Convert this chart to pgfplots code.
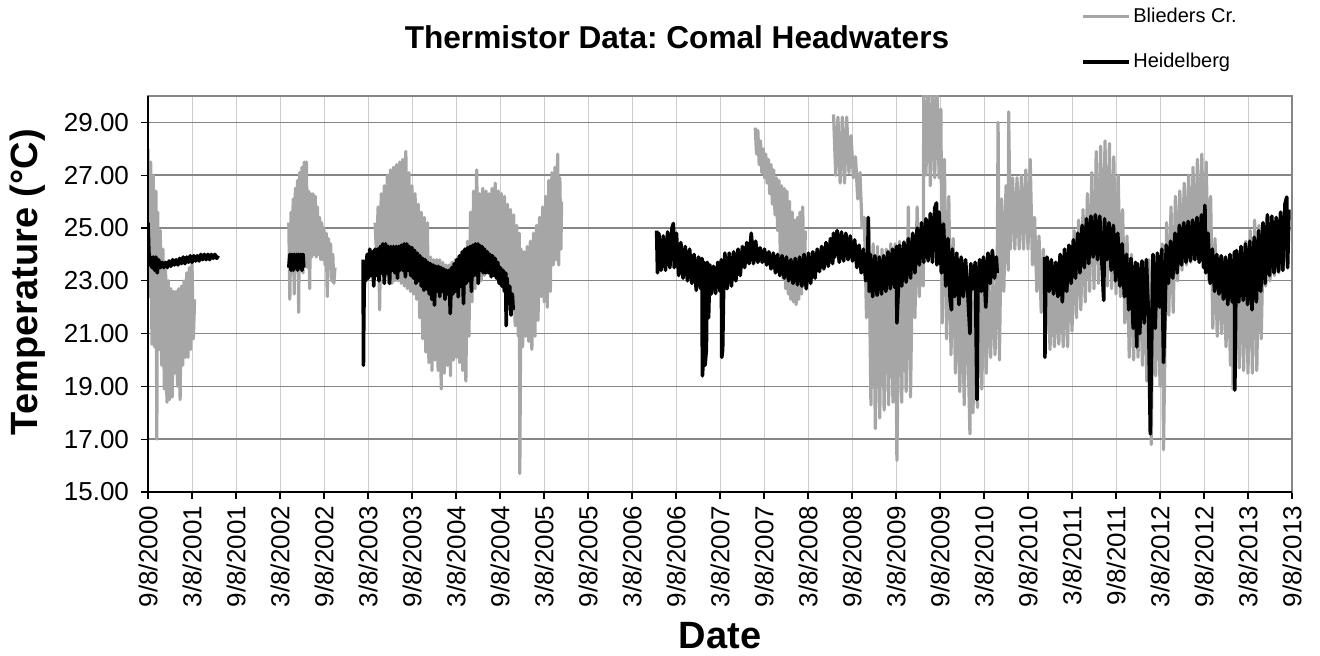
\documentclass[border=0pt]{standalone}
\usepackage{fontspec}
\setmainfont{Liberation Sans}
\usepackage{pgfplots}
\pgfplotsset{compat=1.18}
\definecolor{sergray}{RGB}{166,166,166}
\definecolor{hgrid}{RGB}{134,134,134}
\definecolor{vgrid}{RGB}{205,205,205}
\frenchspacing
\begin{document}
\begin{tikzpicture}
\useasboundingbox (-74pt,-82pt) rectangle (586pt,246pt);
\begin{axis}[
  at={(0,0)}, anchor=south west,
  scale only axis, width=572pt, height=198pt,
  clip mode=individual,
  xmin=0, xmax=13, ymin=15, ymax=30,
  xtick={0,0.5,...,13},
  xticklabels={9/8/2000,3/8/2001,9/8/2001,3/8/2002,9/8/2002,3/8/2003,9/8/2003,3/8/2004,9/8/2004,3/8/2005,9/8/2005,3/8/2006,9/8/2006,3/8/2007,9/8/2007,3/8/2008,9/8/2008,3/8/2009,9/8/2009,3/8/2010,9/8/2010,3/8/2011,9/8/2011,3/8/2012,9/8/2012,3/8/2013,9/8/2013},
  ytick={15,17,...,29},
  yticklabels={15.00,17.00,19.00,21.00,23.00,25.00,27.00,29.00},
  /pgf/number format/assume math mode=true,
  xtick pos=bottom, ytick pos=left,
  tick align=outside, major tick length=3.5pt,
  tick style={black, line width=0.6pt},
  xticklabel style={rotate=90, anchor=east, font=\fontsize{13}{13}\selectfont},
  yticklabel style={font=\fontsize{13}{13}\selectfont, xshift=-2.5pt},
  grid=major,
  x grid style={vgrid, line width=0.5pt},
  y grid style={hgrid, line width=0.7pt},
  axis line style={hgrid, line width=0.9pt},
  every axis x label/.style={at={(axis description cs:0.5,0)}, anchor=center, yshift=-72pt},
  every axis y label/.style={at={(axis description cs:0,0.53)}, xshift=-60pt, anchor=center, rotate=90},
  xlabel={\fontsize{19}{19}\selectfont\bfseries Date},
  ylabel={\fontsize{19}{19}\selectfont\bfseries Temperature (°C)},
  legend style={at={(axis description cs:0.815,1)}, anchor=south west, yshift=11pt,
    draw=none, fill=none, inner sep=0pt, row sep=11pt,
    font=\fontsize{10}{10}\selectfont, nodes={inner sep=1.5pt}},
  legend cell align=left,
  legend image code/.code={\draw[#1] (0pt,0pt) -- (23pt,0pt);},
  gs/.style={sergray, line width=1.6pt, line join=round},
  bs/.style={black, line width=1.8pt, line join=round},
]
% ---------------- Blieders Cr. ----------------
\addplot[gs] coordinates {(0.000,28.0) (0.015,22.4) (0.030,27.5) (0.045,20.6) (0.060,27.0) (0.075,20.5) (0.090,26.4) (0.100,17.0) (0.110,25.6) (0.125,20.4) (0.140,24.9) (0.155,19.8) (0.170,24.2) (0.185,18.9) (0.200,23.4) (0.215,18.4) (0.230,23.0) (0.245,18.5) (0.260,22.7) (0.275,18.6) (0.290,22.6) (0.305,19.5) (0.320,22.6) (0.335,19.0) (0.350,22.7) (0.365,18.5) (0.380,22.8) (0.395,19.8) (0.410,23.0) (0.425,20.1) (0.440,23.3) (0.455,20.1) (0.470,23.5) (0.485,20.4) (0.500,23.7) (0.515,20.8) (0.530,22.3)};
\addlegendentry{Blieders Cr.}
\addplot[gs, forget plot] coordinates {(1.600,25.2) (1.612,22.3) (1.625,25.6) (1.637,23.3) (1.650,26.1) (1.662,22.5) (1.675,26.5) (1.687,23.5) (1.700,26.8) (1.712,21.8) (1.725,27.1) (1.737,23.4) (1.750,27.3) (1.762,23.3) (1.775,27.5) (1.787,23.6) (1.800,27.5) (1.812,23.5) (1.825,26.4) (1.837,22.7) (1.850,26.3) (1.862,23.9) (1.875,26.3) (1.887,24.0) (1.900,26.2) (1.912,23.9) (1.925,25.8) (1.937,24.0) (1.950,25.4) (1.962,23.8) (1.975,25.2) (1.987,23.8) (2.000,25.0) (2.012,23.6) (2.025,24.8) (2.037,22.4) (2.050,24.6) (2.062,23.5) (2.075,24.4) (2.087,23.0) (2.100,24.0) (2.112,22.9) (2.125,23.5)};
\addplot[gs, forget plot] coordinates {(2.580,25.2) (2.597,24.0) (2.615,25.8) (2.632,21.9) (2.650,26.3) (2.667,23.5) (2.685,26.6) (2.702,23.2) (2.720,27.0) (2.737,22.9) (2.755,27.2) (2.772,22.9) (2.790,27.3) (2.807,23.0) (2.825,27.4) (2.842,23.0) (2.860,27.5) (2.877,22.9) (2.895,27.6) (2.912,22.8) (2.930,27.9) (2.947,22.7) (2.965,27.1) (2.982,22.6) (3.000,26.6) (3.017,22.5) (3.035,26.3) (3.052,22.3) (3.070,25.9) (3.087,21.6) (3.105,25.6) (3.122,20.8) (3.140,25.4) (3.157,20.3) (3.175,25.2) (3.192,19.9) (3.210,23.9) (3.227,19.6) (3.245,23.8) (3.262,20.0) (3.280,23.8) (3.297,19.6) (3.315,23.8) (3.332,18.9) (3.350,23.7) (3.367,19.5) (3.385,23.6) (3.402,19.8) (3.420,23.6) (3.437,19.4) (3.455,23.7) (3.472,20.0) (3.490,23.8) (3.507,20.1) (3.525,23.9) (3.542,19.9) (3.560,24.0) (3.577,19.6) (3.595,24.1) (3.612,19.2) (3.630,24.5) (3.647,20.9) (3.665,25.6) (3.682,22.2) (3.700,26.4) (3.717,22.7) (3.735,27.2) (3.752,22.9) (3.770,26.3) (3.787,23.0) (3.805,26.5) (3.822,23.2) (3.840,26.4) (3.857,23.3) (3.875,26.3) (3.892,23.5) (3.910,26.5) (3.927,23.5) (3.945,26.7) (3.962,23.6) (3.980,26.4) (3.997,23.4) (4.015,26.3) (4.032,23.3) (4.050,26.2) (4.067,23.0) (4.085,25.9) (4.102,22.7) (4.120,25.7) (4.137,21.9) (4.155,25.5) (4.172,21.3) (4.190,25.1) (4.207,20.9) (4.220,24.8) (4.225,15.7) (4.240,24.2) (4.257,20.5) (4.275,24.1) (4.292,20.9) (4.310,24.3) (4.327,20.7) (4.345,24.5) (4.362,20.4) (4.380,24.8) (4.397,20.9) (4.415,25.1) (4.432,21.5) (4.450,25.4) (4.467,22.4) (4.485,25.8) (4.502,22.2) (4.520,26.2) (4.537,22.0) (4.555,26.8) (4.572,22.6) (4.590,27.1) (4.607,23.6) (4.625,27.3) (4.642,23.8) (4.655,27.8) (4.667,23.6) (4.680,26.9) (4.692,24.2) (4.700,26.0)};
\addplot[gs, forget plot] coordinates {(6.900,28.8) (6.915,27.8) (6.930,28.7) (6.945,27.4) (6.960,28.3) (6.975,27.1) (6.990,28.0) (7.005,26.9) (7.020,27.8) (7.035,26.7) (7.050,27.6) (7.065,26.3) (7.080,27.4) (7.095,25.9) (7.110,27.2) (7.125,25.5) (7.140,26.9) (7.155,24.9) (7.170,26.8) (7.185,24.0) (7.200,26.6) (7.215,23.1) (7.230,26.5) (7.245,22.7) (7.260,26.4) (7.275,22.5) (7.290,26.0) (7.305,22.3) (7.320,25.6) (7.335,22.2) (7.350,25.3) (7.365,22.1) (7.380,25.4) (7.395,22.3) (7.410,25.6) (7.425,22.5) (7.440,25.8) (7.455,22.8) (7.470,24.9)};
\addplot[gs, forget plot] coordinates {(7.790,29.3) (7.815,27.0) (7.840,29.2) (7.865,26.7) (7.890,29.2) (7.915,26.7) (7.940,29.2) (7.965,27.1) (7.990,28.5) (8.015,26.9) (8.040,27.7) (8.065,26.1) (8.090,27.1) (8.115,25.0) (8.140,25.4) (8.165,21.6) (8.190,25.1) (8.215,18.3) (8.240,24.4) (8.265,17.4) (8.290,24.3) (8.315,17.8) (8.340,24.2) (8.365,18.1) (8.390,24.2) (8.415,18.3) (8.440,24.4) (8.465,18.4) (8.490,24.4) (8.510,16.2) (8.540,24.5) (8.565,18.4) (8.590,24.5) (8.615,18.8) (8.640,25.8) (8.665,18.6) (8.690,24.7) (8.715,21.6) (8.740,25.8) (8.765,22.4) (8.790,24.8) (8.810,22.8) (8.815,30.5) (8.840,27.0) (8.865,30.5) (8.890,26.6) (8.915,30.5) (8.940,26.9) (8.965,30.5) (8.990,26.9) (9.010,29.5) (9.025,21.4) (9.050,27.6) (9.075,20.8) (9.100,26.2) (9.125,20.2) (9.150,24.6) (9.175,19.5) (9.200,23.3) (9.225,18.8) (9.250,23.2) (9.275,18.3) (9.300,23.1) (9.340,17.2) (9.350,23.0) (9.375,18.0) (9.400,23.1) (9.425,18.2) (9.450,23.3) (9.475,18.9) (9.500,23.5) (9.525,19.5) (9.550,23.2) (9.575,20.1) (9.600,23.3) (9.625,20.2) (9.650,23.5) (9.660,29.0) (9.675,20.0) (9.700,26.1) (9.725,22.6) (9.750,26.6) (9.775,23.4) (9.780,29.4) (9.800,24.2) (9.825,26.9) (9.850,24.2) (9.875,26.9) (9.900,24.2) (9.925,27.0) (9.950,24.2) (9.975,27.2) (10.000,24.2) (10.025,27.6) (10.050,23.6) (10.075,25.4) (10.100,22.6) (10.125,24.7) (10.150,21.8) (10.175,24.2) (10.200,21.0) (10.225,23.5) (10.250,20.4) (10.275,23.1) (10.300,20.5) (10.325,22.9) (10.350,20.6) (10.375,23.3) (10.400,20.5) (10.425,23.8) (10.450,20.5) (10.475,24.3) (10.500,21.1) (10.525,24.9) (10.550,21.6) (10.575,25.3) (10.600,21.9) (10.625,25.7) (10.650,22.2) (10.675,26.3) (10.700,22.6) (10.725,27.1) (10.750,22.7) (10.775,27.9) (10.800,22.9) (10.825,28.1) (10.850,22.9) (10.875,28.3) (10.900,22.8) (10.925,28.2) (10.950,22.7) (10.975,27.7) (11.000,22.5) (11.025,27.0) (11.050,22.4) (11.075,25.7) (11.100,21.4) (11.125,24.7) (11.150,20.1) (11.175,24.0) (11.200,20.0) (11.225,23.7) (11.250,20.1) (11.275,23.6) (11.300,19.8) (11.325,23.7) (11.350,19.2) (11.375,23.8) (11.400,16.8) (11.425,23.9) (11.450,19.4) (11.475,24.0) (11.500,19.0) (11.525,24.4) (11.540,16.6) (11.575,25.2) (11.600,21.7) (11.625,25.8) (11.650,21.8) (11.675,26.2) (11.700,23.0) (11.725,26.4) (11.750,23.4) (11.775,26.7) (11.800,23.6) (11.825,27.0) (11.850,23.7) (11.875,27.3) (11.900,23.8) (11.925,27.6) (11.950,23.7) (11.975,27.8) (12.000,23.5) (12.025,27.5) (12.050,23.0) (12.075,26.2) (12.100,21.2) (12.125,24.6) (12.150,20.9) (12.175,23.9) (12.200,21.0) (12.225,23.8) (12.250,20.5) (12.275,23.7) (12.300,19.8) (12.325,23.8) (12.330,18.9) (12.375,24.0) (12.400,19.7) (12.425,24.2) (12.450,19.6) (12.475,24.5) (12.500,19.5) (12.525,24.9) (12.550,19.5) (12.575,25.3) (12.600,19.6) (12.625,25.1) (12.650,20.8) (12.675,24.9) (12.700,22.8) (12.725,24.8) (12.750,23.0) (12.775,24.9) (12.800,23.2) (12.825,25.0) (12.850,23.3) (12.875,25.1) (12.900,23.4) (12.925,25.2) (12.950,23.5)};
% ---------------- Heidelberg ----------------
\addplot[bs] coordinates {(0.000,25.2) (0.008,24.3) (0.016,23.6) (0.030,23.9) (0.045,23.5) (0.060,23.9) (0.075,23.4) (0.090,23.9) (0.105,23.3) (0.120,23.8) (0.140,23.5) (0.160,23.7) (0.180,23.5) (0.200,23.7) (0.220,23.5) (0.240,23.75) (0.260,23.55) (0.280,23.8) (0.300,23.6) (0.320,23.8) (0.340,23.6) (0.360,23.85) (0.380,23.65) (0.400,23.9) (0.420,23.65) (0.440,23.9) (0.460,23.7) (0.480,23.95) (0.500,23.7) (0.520,23.95) (0.540,23.75) (0.560,23.95) (0.580,23.75) (0.600,24.0) (0.620,23.8) (0.640,24.0) (0.660,23.8) (0.680,24.0) (0.700,23.8) (0.720,24.0) (0.740,23.85) (0.760,24.0) (0.780,23.85) (0.800,23.95)};
\addlegendentry{Heidelberg}
\addplot[bs, forget plot] coordinates {(1.600,23.5) (1.612,24.0) (1.625,23.4) (1.637,24.0) (1.650,23.4) (1.662,24.0) (1.675,23.5) (1.687,24.0) (1.700,23.4) (1.712,24.0) (1.725,23.5) (1.737,24.0) (1.750,23.4) (1.762,24.0) (1.770,23.5)};
\addplot[bs, forget plot] coordinates {(2.445,23.8) (2.448,19.8) (2.452,21.5) (2.460,23.6) (2.475,23.0) (2.490,24.0) (2.505,23.1) (2.520,24.2) (2.535,23.2) (2.550,24.1) (2.565,22.8) (2.580,24.2) (2.595,23.2) (2.610,24.2) (2.625,23.0) (2.640,24.3) (2.655,23.3) (2.670,24.4) (2.685,22.9) (2.700,24.4) (2.715,23.3) (2.730,24.3) (2.745,22.9) (2.760,24.3) (2.775,23.4) (2.790,24.3) (2.805,23.3) (2.820,24.3) (2.835,23.1) (2.850,24.3) (2.865,23.4) (2.880,24.35) (2.895,23.4) (2.910,24.4) (2.925,23.15) (2.940,24.4) (2.955,23.4) (2.970,24.3) (2.985,23.2) (3.000,24.25) (3.015,23.1) (3.030,24.15) (3.045,22.9) (3.060,24.05) (3.075,23.0) (3.090,23.95) (3.105,22.8) (3.120,23.85) (3.135,22.64) (3.150,23.8) (3.165,22.7) (3.180,23.7) (3.195,22.5) (3.210,23.65) (3.225,22.3) (3.240,23.6) (3.255,22.08) (3.270,23.55) (3.285,22.6) (3.300,23.55) (3.315,22.4) (3.330,23.5) (3.345,22.6) (3.360,23.45) (3.375,22.3) (3.390,23.4) (3.405,22.5) (3.420,23.4) (3.435,21.76) (3.450,23.5) (3.465,22.5) (3.480,23.65) (3.495,22.6) (3.510,23.8) (3.525,22.39) (3.540,23.95) (3.555,22.8) (3.570,24.1) (3.585,22.14) (3.600,24.2) (3.615,22.9) (3.630,24.25) (3.645,23.0) (3.660,24.3) (3.675,22.6) (3.690,24.35) (3.705,23.2) (3.720,24.4) (3.735,23.2) (3.750,24.4) (3.753,22.9) (3.765,24.35) (3.780,23.4) (3.795,24.3) (3.810,23.3) (3.825,24.2) (3.840,23.3) (3.855,24.1) (3.870,23.3) (3.885,24.0) (3.900,23.15) (3.915,23.95) (3.930,23.2) (3.945,23.85) (3.960,23.1) (3.975,23.7) (3.990,22.9) (4.005,23.5) (4.020,22.8) (4.035,23.4) (4.050,22.6) (4.065,23.3) (4.070,21.3) (4.080,23.1) (4.095,22.3) (4.110,22.8) (4.125,21.7) (4.140,22.5) (4.150,21.9)};
\addplot[bs, forget plot] coordinates {(5.780,24.9) (5.790,23.3) (5.805,24.8) (5.830,23.4) (5.855,24.7) (5.880,23.4) (5.905,24.85) (5.930,23.5) (5.955,25.0) (5.970,25.17) (5.980,23.5) (6.005,24.8) (6.030,23.2) (6.055,24.45) (6.080,23.1) (6.105,24.3) (6.130,23.0) (6.155,24.2) (6.180,22.9) (6.205,24.0) (6.230,22.64) (6.255,23.9) (6.280,22.7) (6.295,23.85) (6.300,19.4) (6.310,20.0) (6.320,23.7) (6.330,19.8) (6.345,20.4) (6.355,23.7) (6.370,21.6) (6.385,23.6) (6.400,22.5) (6.425,23.55) (6.450,22.52) (6.475,23.7) (6.500,22.6) (6.515,23.8) (6.520,20.1) (6.530,20.4) (6.540,22.5) (6.555,24.05) (6.580,22.7) (6.605,24.05) (6.630,22.8) (6.655,24.1) (6.680,23.0) (6.705,24.2) (6.730,23.2) (6.755,24.3) (6.780,23.5) (6.805,24.45) (6.830,23.65) (6.855,24.8) (6.880,23.65) (6.905,24.5) (6.930,23.7) (6.955,24.25) (6.980,23.7) (7.005,24.2) (7.030,23.6) (7.055,24.1) (7.080,23.45) (7.105,24.05) (7.130,23.3) (7.155,24.0) (7.180,23.2) (7.205,23.95) (7.230,23.1) (7.255,23.9) (7.280,23.0) (7.305,23.8) (7.330,22.9) (7.355,23.85) (7.380,22.85) (7.405,23.9) (7.430,22.8) (7.455,24.0) (7.480,22.7) (7.505,24.05) (7.530,22.9) (7.555,24.1) (7.580,23.1) (7.605,24.2) (7.630,23.35) (7.655,24.3) (7.680,23.45) (7.705,24.45) (7.730,23.55) (7.755,24.6) (7.780,23.65) (7.790,24.8) (7.805,23.9) (7.830,24.9) (7.855,23.7) (7.880,24.85) (7.905,23.75) (7.930,24.8) (7.955,23.8) (7.980,24.7) (8.005,23.75) (8.030,24.55) (8.055,23.5) (8.080,24.35) (8.105,23.3) (8.130,24.2) (8.155,23.0) (8.180,24.1) (8.185,25.4) (8.195,22.6) (8.210,24.0) (8.235,22.4) (8.260,23.95) (8.285,22.45) (8.310,23.9) (8.335,22.5) (8.360,23.95) (8.385,22.6) (8.410,24.1) (8.435,22.7) (8.460,24.2) (8.485,22.75) (8.505,24.3) (8.510,21.4) (8.525,22.6) (8.540,24.35) (8.565,22.8) (8.590,24.45) (8.615,22.95) (8.640,24.6) (8.665,23.1) (8.690,24.8) (8.715,23.3) (8.740,25.0) (8.765,23.6) (8.790,25.2) (8.815,23.7) (8.840,25.35) (8.865,23.75) (8.890,25.55) (8.915,23.7) (8.940,25.75) (8.960,25.95) (8.965,23.6) (8.990,25.6) (9.015,23.3) (9.040,25.15) (9.065,22.8) (9.090,24.6) (9.115,22.3) (9.130,21.9) (9.140,24.2) (9.165,22.4) (9.190,24.05) (9.215,22.1) (9.240,23.9) (9.265,22.4) (9.290,23.8) (9.315,22.6) (9.340,21.0) (9.350,23.65) (9.375,22.7) (9.400,23.7) (9.420,18.5) (9.430,22.5) (9.450,23.8) (9.470,22.6) (9.495,23.9) (9.520,22.0) (9.545,24.05) (9.570,22.9) (9.595,24.15) (9.620,23.1) (9.640,23.9) (9.650,23.3)};
\addplot[bs, forget plot] coordinates {(10.190,23.9) (10.192,20.1) (10.200,22.6) (10.215,23.9) (10.240,22.6) (10.265,23.8) (10.290,22.5) (10.315,23.7) (10.340,22.4) (10.365,24.0) (10.390,22.2) (10.415,24.2) (10.440,22.6) (10.465,24.35) (10.490,22.9) (10.515,24.55) (10.540,23.1) (10.565,24.8) (10.590,23.3) (10.615,25.1) (10.640,23.5) (10.665,25.35) (10.690,23.65) (10.715,25.45) (10.740,23.9) (10.765,25.5) (10.790,23.8) (10.815,25.45) (10.840,23.7) (10.860,22.26) (10.870,25.35) (10.895,23.8) (10.920,25.2) (10.945,23.4) (10.970,25.1) (10.995,23.0) (11.020,24.8) (11.045,22.8) (11.070,24.4) (11.095,22.4) (11.120,24.0) (11.145,21.9) (11.170,23.85) (11.195,21.2) (11.220,23.7) (11.235,20.5) (11.245,23.65) (11.270,21.0) (11.295,23.75) (11.320,21.4) (11.345,23.8) (11.370,21.6) (11.390,17.2) (11.410,21.8) (11.420,24.0) (11.445,21.2) (11.470,24.05) (11.495,22.0) (11.520,24.2) (11.540,19.9) (11.560,22.3) (11.570,24.35) (11.595,22.9) (11.620,24.5) (11.645,23.1) (11.670,24.8) (11.695,23.3) (11.720,25.1) (11.745,23.6) (11.770,25.2) (11.795,23.7) (11.820,25.25) (11.845,23.75) (11.870,25.3) (11.895,23.8) (11.920,25.4) (11.945,23.7) (11.970,25.5) (11.995,23.5) (12.010,25.86) (12.020,23.3) (12.045,24.8) (12.070,22.9) (12.095,24.2) (12.120,22.6) (12.145,24.0) (12.170,22.5) (12.195,23.95) (12.220,22.3) (12.245,23.9) (12.270,22.1) (12.295,24.0) (12.320,22.2) (12.345,24.1) (12.350,18.86) (12.360,22.0) (12.370,24.15) (12.395,22.2) (12.420,24.3) (12.445,22.26) (12.470,24.4) (12.495,22.1) (12.520,24.5) (12.545,21.9) (12.570,24.65) (12.595,22.2) (12.620,24.9) (12.645,22.6) (12.670,25.2) (12.695,22.9) (12.720,25.5) (12.745,23.2) (12.770,25.45) (12.795,23.3) (12.820,25.4) (12.845,23.35) (12.870,25.6) (12.895,23.4) (12.920,25.9) (12.940,26.17) (12.950,23.5) (12.965,25.7)};
% title
\node[font=\fontsize{15.8}{15.8}\selectfont\bfseries] at (axis description cs:0.4624,1) [yshift=29.5pt] {Thermistor Data: Comal Headwaters};
% dark left and bottom axis lines
\draw[black, line width=0.9pt] (axis description cs:0,1) -- (axis description cs:0,0) -- (axis description cs:1,0);
\end{axis}
\end{tikzpicture}
\end{document}
